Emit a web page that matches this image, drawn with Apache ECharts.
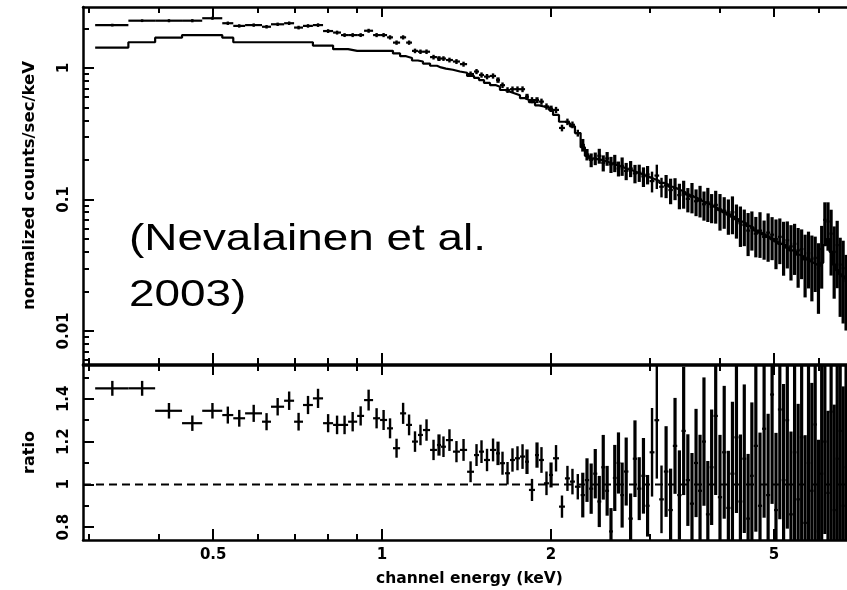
<!DOCTYPE html>
<html><head><meta charset="utf-8">
<script src="https://cdn.jsdelivr.net/npm/echarts@6/dist/echarts.min.js"></script>
<style>html,body{margin:0;padding:0;background:#fff}#c{width:847px;height:590px}</style>
</head><body><div id="c"></div>
<script>
// ---- data (energy bins in keV) ----
const binEdgesKeV = [
  0.308,0.353,0.394,0.440,0.478,0.519,0.543,0.570,0.611,0.634,0.669,0.697,0.723,0.753,0.785,0.818,0.845,0.870,0.903,0.929,
  0.964,0.992,1.021,1.046,1.077,1.104,1.131,1.159,1.183,1.218,1.253,1.274,1.300,1.338,1.377,1.418,1.459,1.489,1.520,1.558,
  1.597,1.623,1.657,1.691,1.726,1.762,1.799,1.828,1.874,1.905,1.944,1.985,2.018,2.068,2.119,2.163,2.208,2.26,
  2.30,2.34,2.38,2.42,2.46,2.50,2.54,2.58,2.62,2.66,2.70,2.75,2.80,2.85,2.90,2.95,3.00,
  3.06,3.12,3.18,3.24,3.30,3.36,3.42,3.48,3.54,3.60,3.66,3.72,3.78,3.84,3.90,3.97,4.04,4.11,4.18,4.25,4.32,4.39,4.46,4.53,4.60,
  4.68,4.76,4.84,4.92,5.00,5.08,5.16,5.24,5.32,5.40,5.48,5.56,5.64,5.72,5.80,5.88,5.96,6.04,6.12,6.20,6.28,6.36,6.44,6.52,6.60,6.68,6.76,6.85
];
const countRate = [
  2.12,2.29,2.29,2.29,2.39,2.19,2.09,2.12,2.06,2.15,2.19,2.03,2.09,2.12,1.91,1.86,1.78,1.78,1.78,1.92,
  1.78,1.78,1.71,1.56,1.71,1.56,1.35,1.33,1.33,1.21,1.18,1.18,1.15,1.12,1.07,0.90,0.94,0.885,0.86,0.87,
  0.81,0.74,0.68,0.69,0.69,0.69,0.605,0.57,0.57,0.555,0.51,0.49,0.48,0.35,0.39,0.37,0.32,
  0.26,0.22,0.20,0.205,0.215,0.19,0.205,0.185,0.19,0.172,0.18,0.165,0.172,0.158,0.16,0.15,0.155,
  0.138,0.152,0.125,0.128,0.118,0.122,0.108,0.112,0.101,0.106,0.097,0.10,0.092,0.095,0.088,0.091,0.084,0.082,0.077,0.08,0.071,0.066,0.064,0.058,0.061,
  0.055,0.058,0.052,0.056,0.054,0.05,0.052,0.047,0.049,0.044,0.046,0.041,0.042,0.036,0.039,0.035,0.036,0.030,0.042,0.07,0.068,0.055,0.04,0.045,0.032,0.030,0.024,0.022
];
const modelRate = [
  1.43,1.57,1.70,1.78,1.78,1.70,1.57,1.57,1.57,1.57,1.57,1.57,1.57,1.48,1.48,1.39,1.39,1.35,1.35,1.35,
  1.35,1.35,1.35,1.29,1.23,1.19,1.14,1.12,1.08,1.04,1.01,0.99,0.97,0.94,0.92,0.87,0.84,0.81,0.77,0.74,
  0.72,0.68,0.66,0.64,0.62,0.59,0.57,0.55,0.52,0.51,0.50,0.48,0.44,0.39,0.38,0.36,0.32,
  0.25,0.215,0.205,0.203,0.200,0.196,0.192,0.188,0.183,0.179,0.175,0.170,0.166,0.161,0.157,0.152,0.148,
  0.143,0.139,0.134,0.130,0.125,0.121,0.117,0.113,0.109,0.105,0.102,0.098,0.095,0.092,0.089,0.086,0.083,0.080,0.077,0.074,0.071,0.068,0.066,0.063,0.061,
  0.058,0.056,0.054,0.052,0.050,0.048,0.046,0.045,0.043,0.041,0.040,0.038,0.037,0.035,0.034,0.033,0.032,0.031,0.033,0.045,0.050,0.040,0.032,0.029,0.027,0.026,0.025,0.024
];
const ratio = [
  1.449,1.449,1.344,1.286,1.344,1.324,1.309,1.332,1.293,1.363,1.391,1.293,1.371,1.402,1.286,1.278,1.278,1.293,1.320,1.394,
  1.309,1.301,1.262,1.169,1.332,1.278,1.200,1.231,1.254,1.161,1.184,1.176,1.207,1.153,1.161,1.059,1.137,1.153,1.114,1.161,
  1.145,1.099,1.052,1.114,1.122,1.130,1.106,0.974,1.137,1.114,1.005,1.044,1.122,0.896,1.028,1.013,0.989,
  0.95,1.02,0.98,1.05,0.92,1.08,0.97,0.78,1.03,1.10,0.95,1.06,0.84,1.12,0.98,1.04,0.90,
  1.15,1.30,0.93,1.06,0.88,1.18,0.95,1.25,1.02,0.91,1.10,0.97,1.20,0.86,1.08,1.32,0.94,1.15,0.89,1.05,1.22,0.92,1.12,0.84,1.04,
  1.18,0.90,1.26,0.95,1.42,0.88,1.35,1.02,1.30,0.86,1.15,0.93,1.22,0.82,1.10,0.97,1.28,0.78,1.05,1.20,0.96,1.34,0.88,1.12,1.25,0.90,1.08,0.95
];
const fracErr = [
  0.024,0.024,0.027,0.028,0.027,0.03,0.03,0.03,0.031,0.03,0.031,0.032,0.031,0.032,0.033,0.034,0.034,0.035,0.034,0.035,
  0.036,0.036,0.037,0.038,0.037,0.038,0.04,0.039,0.04,0.041,0.042,0.041,0.042,0.043,0.044,0.046,0.045,0.046,0.047,0.046,
  0.048,0.049,0.05,0.049,0.05,0.051,0.052,0.053,0.052,0.054,0.055,0.056,0.055,0.058,0.057,0.059,0.06,
  0.11,0.10,0.12,0.11,0.13,0.14,0.12,0.14,0.15,0.13,0.16,0.15,0.14,0.16,0.15,0.17,0.16,
  0.18,0.21,0.17,0.20,0.22,0.19,0.22,0.24,0.21,0.26,0.23,0.27,0.25,0.29,0.25,0.28,0.31,0.27,0.30,0.32,0.29,0.34,0.31,0.36,0.33,
  0.34,0.38,0.33,0.40,0.36,0.41,0.38,0.44,0.39,0.45,0.42,0.48,0.41,0.50,0.46,0.52,0.45,0.55,0.50,0.36,0.40,0.52,0.56,0.53,0.60,0.62,0.58,0.65
];
const ratioReference = 1;

// ---- axes ----
const xRange = [0.293, 7.0];
const yTopRange = [0.00561, 2.91];
const yRatioRange = [0.740, 1.558];
const xMajorTicks = [0.5, 1, 2, 5];
const xMinorTicks = [0.3, 0.4, 0.6, 0.7, 0.8, 0.9, 3, 4, 6, 7];
const yTopMajorTicks = [0.01, 0.1, 1];
const yTopMinorTicks = [0.006,0.007,0.008,0.009,0.02,0.03,0.04,0.05,0.06,0.07,0.08,0.09,0.2,0.3,0.4,0.5,0.6,0.7,0.8,0.9,2];
const yRatioMajorTicks = [0.8, 1, 1.2, 1.4];
const yRatioMinorTicks = [0.9, 1.1, 1.3, 1.5];
const xAxisTitle = 'channel energy (keV)';
const yTopTitle = 'normalized counts/sec/keV';
const yRatioTitle = 'ratio';
const annotation = '(Nevalainen et al.\n2003)';

// ---- build ----
const FONT = 'DejaVu Sans';
const labelStyle = { color: '#000', fontFamily: FONT, fontWeight: 'bold', fontSize: 15 };
const nameStyle = { color: '#000', fontFamily: FONT, fontWeight: 'bold', fontSize: 16 };
const LINE = { color: '#000', width: 2.5 };
const TICK = { color: '#000', width: 2 };
const fmt = v => String(+(+v).toPrecision(6));

function xAxesFor(gridIndex, withLabels) {
  const base = { type: 'log', logBase: 10, gridIndex, min: xRange[0], max: xRange[1],
    splitLine: { show: false }, minorTick: { show: false } };
  return [
    Object.assign({}, base, { position: 'bottom',
      axisLine: { show: true, onZero: false, lineStyle: LINE },
      axisTick: { show: true, inside: true, length: 11, customValues: xMajorTicks, lineStyle: TICK },
      axisLabel: { show: withLabels, customValues: xMajorTicks, margin: 8, formatter: fmt, ...labelStyle },
      name: withLabels ? xAxisTitle : '', nameLocation: 'middle', nameGap: 31,
      nameTextStyle: Object.assign({}, nameStyle, { fontSize: 15.5 }) }),
    Object.assign({}, base, { position: 'bottom', axisLine: { show: false },
      axisTick: { show: true, inside: true, length: 6, customValues: xMinorTicks, lineStyle: TICK },
      axisLabel: { show: false } }),
    Object.assign({}, base, { position: 'top',
      axisLine: { show: true, onZero: false, lineStyle: LINE },
      axisTick: { show: true, inside: true, length: 10, customValues: xMajorTicks, lineStyle: TICK },
      axisLabel: { show: false } }),
    Object.assign({}, base, { position: 'top', axisLine: { show: false },
      axisTick: { show: true, inside: true, length: 6, customValues: xMinorTicks, lineStyle: TICK },
      axisLabel: { show: false } })
  ];
}
function yAxesFor(gridIndex, type, range, major, minor, title, nameSize) {
  const base = { type, gridIndex, min: range[0], max: range[1], position: 'left',
    splitLine: { show: false }, minorTick: { show: false } };
  if (type === 'log') base.logBase = 10;
  return [
    Object.assign({}, base, {
      axisLine: { show: true, onZero: false, lineStyle: LINE },
      axisTick: { show: true, inside: true, length: 11, customValues: major, lineStyle: TICK },
      axisLabel: { show: true, customValues: major, rotate: 90, margin: 11, formatter: fmt, ...labelStyle },
      name: title, nameLocation: 'middle', nameGap: 45,
      nameTextStyle: Object.assign({}, nameStyle, { fontSize: nameSize }) }),
    Object.assign({}, base, { axisLine: { show: false },
      axisTick: { show: true, inside: true, length: 6, customValues: minor, lineStyle: TICK },
      axisLabel: { show: false } })
  ];
}

const nBins = binEdgesKeV.length - 1;
const topData = [], ratioData = [], modelSteps = [];
for (let i = 0; i < nBins; i++) {
  topData.push([binEdgesKeV[i], binEdgesKeV[i + 1], countRate[i], countRate[i] * fracErr[i]]);
  ratioData.push([binEdgesKeV[i], binEdgesKeV[i + 1], ratio[i], ratio[i] * fracErr[i]]);
  modelSteps.push([binEdgesKeV[i], modelRate[i]]);
}
modelSteps.push([binEdgesKeV[nBins], modelRate[nBins - 1]]);

function crossRender(params, api) {
  const lo = api.value(0), hi = api.value(1), v = api.value(2), e = api.value(3);
  const mid = (lo + hi) / 2;
  const a = api.coord([lo, v]), b = api.coord([hi, v]);
  const t = api.coord([mid, v + e]), d = api.coord([mid, v - e]);
  // narrow (densely packed) bins are drawn with heavier strokes, as in the original plot
  const vw = (b[0] - a[0]) < 4.6 ? 3.2 : 2.4;
  return { type: 'group', children: [
    { type: 'line', shape: { x1: a[0], y1: a[1], x2: b[0], y2: b[1] }, style: { stroke: '#000', lineWidth: 2.2 } },
    { type: 'line', shape: { x1: t[0], y1: t[1], x2: d[0], y2: d[1] }, style: { stroke: '#000', lineWidth: vw } }
  ] };
}

const chart = echarts.init(document.getElementById('c'), null, { renderer: 'canvas' });
chart.setOption({
  animation: false,
  backgroundColor: '#fff',
  grid: [
    { left: 83, top: 7, width: 773, height: 357, containLabel: false, outerBoundsMode: 'none' },
    { left: 83, top: 365, width: 773, height: 175, containLabel: false, outerBoundsMode: 'none' }
  ],
  xAxis: [].concat(xAxesFor(0, false), xAxesFor(1, true)),
  yAxis: [].concat(
    yAxesFor(0, 'log', yTopRange, yTopMajorTicks, yTopMinorTicks, yTopTitle, 16.5),
    yAxesFor(1, 'value', yRatioRange, yRatioMajorTicks, yRatioMinorTicks, yRatioTitle, 16)),
  series: [
    { type: 'line', xAxisIndex: 0, yAxisIndex: 0, step: 'end', data: modelSteps, symbol: 'none',
      lineStyle: { color: '#000', width: 2.2 }, clip: true, silent: true },
    { type: 'custom', xAxisIndex: 0, yAxisIndex: 0, data: topData, renderItem: crossRender,
      encode: { x: [0, 1], y: 2 }, clip: true, silent: true },
    { type: 'line', xAxisIndex: 4, yAxisIndex: 2, data: [[xRange[0], ratioReference], [xRange[1], ratioReference]],
      symbol: 'none', lineStyle: { color: '#000', width: 2, type: [8, 5] }, silent: true },
    { type: 'custom', xAxisIndex: 4, yAxisIndex: 2, data: ratioData, renderItem: crossRender,
      encode: { x: [0, 1], y: 2 }, clip: true, silent: true }
  ],
  graphic: [{
    type: 'text', x: 129, y: 212, scaleX: 1.24, silent: true,
    style: { text: annotation, fontFamily: 'Liberation Sans', fontSize: 37, lineHeight: 56,
      fill: '#000', align: 'left', verticalAlign: 'top', textAlign: 'left', textVerticalAlign: 'top' }
  }]
});
</script></body></html>
